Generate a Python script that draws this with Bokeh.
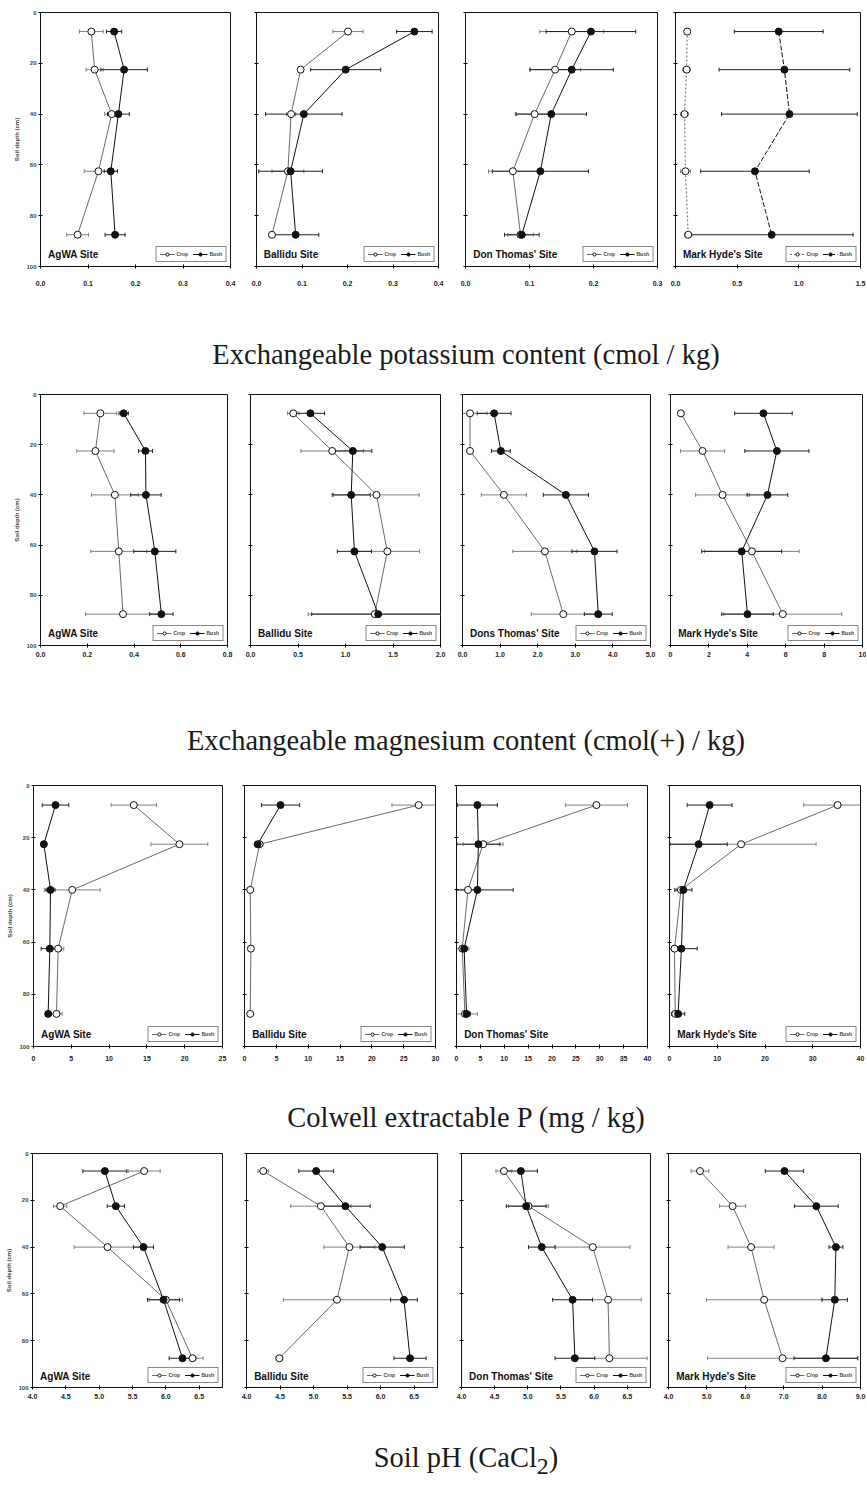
import math
from bokeh.plotting import figure
from bokeh.models import (Range1d, Whisker, TeeHead, ColumnDataSource, Legend, LegendItem,
                          Label, FixedTicker, PrintfTickFormatter, Div)
from bokeh.layouts import column, row
from bokeh.embed import file_html
from bokeh.resources import INLINE

NAN = float("nan")
DEPTH = [7.5, 22.5, 40, 62.5, 87.5]
Y_TICKS = [0, 20, 40, 60, 80, 100]

SITES_K = ["AgWA Site", "Ballidu Site", "Don Thomas' Site", "Mark Hyde's Site"]
SITES_MG = ["AgWA Site", "Ballidu Site", "Dons Thomas' Site", "Mark Hyde's Site"]
SITES_P = ["AgWA Site", "Ballidu Site", "Don Thomas' Site", "Mark Hyde's Site"]
SITES_PH = ["AgWA Site", "Ballidu Site", "Don Thomas' Site", "Mark Hyde's Site"]

CAPTION_K = "Exchangeable potassium content (cmol / kg)"
CAPTION_MG = "Exchangeable magnesium content (cmol(+) / kg)"
CAPTION_P = "Colwell extractable P (mg / kg)"
CAPTION_PH = "Soil pH (CaCl<sub>2</sub>)"

# ---- Exchangeable K (cmol/kg) ----
K_AGWA_CROP = [0.107, 0.114, 0.150, 0.122, 0.078]
K_AGWA_CROP_ERR = [0.025, 0.018, 0.015, 0.030, 0.023]
K_AGWA_BUSH = [0.155, 0.176, 0.164, 0.148, 0.157]
K_AGWA_BUSH_ERR = [0.016, 0.049, 0.023, 0.014, 0.021]
K_BALL_CROP = [0.201, 0.097, 0.076, 0.069, 0.034]
K_BALL_CROP_ERR = [0.033, 0.006, 0.010, 0.035, 0.006]
K_BALL_BUSH = [0.347, 0.196, 0.104, 0.075, 0.086]
K_BALL_BUSH_ERR = [0.039, 0.077, 0.084, 0.070, 0.051]
K_DON_CROP = [0.166, 0.140, 0.108, 0.074, 0.086]
K_DON_CROP_ERR = [0.050, 0.040, 0.030, 0.038, 0.020]
K_DON_BUSH = [0.196, 0.166, 0.134, 0.117, 0.088]
K_DON_BUSH_ERR = [0.070, 0.065, 0.055, 0.075, 0.027]
K_MH_CROP = [0.095, 0.090, 0.073, 0.081, 0.103]
K_MH_CROP_ERR = [0.02, 0.03, 0.03, 0.04, 0.03]
K_MH_BUSH = [0.837, 0.883, 0.924, 0.644, 0.780]
K_MH_BUSH_ERR = [0.36, 0.53, 0.55, 0.44, 0.66]

# ---- Exchangeable Mg (cmol(+)/kg) ----
MG_AGWA_CROP = [0.256, 0.235, 0.318, 0.335, 0.353]
MG_AGWA_CROP_ERR = [0.07, 0.08, 0.10, 0.12, 0.16]
MG_AGWA_BUSH = [0.356, 0.449, 0.451, 0.489, 0.517]
MG_AGWA_BUSH_ERR = [0.02, 0.03, 0.065, 0.09, 0.05]
MG_BALL_CROP = [0.45, 0.86, 1.326, 1.44, 1.308]
MG_BALL_CROP_ERR = [0.06, 0.33, 0.45, 0.34, 0.70]
MG_BALL_BUSH = [0.63, 1.077, 1.06, 1.094, 1.344]
MG_BALL_BUSH_ERR = [0.15, 0.20, 0.20, 0.18, 0.70]
MG_DON_CROP = [0.2, 0.2, 1.1, 2.19, 2.68]
MG_DON_CROP_ERR = [0.45, 0.05, 0.6, 0.85, 0.85]
MG_DON_BUSH = [0.84, 1.02, 2.75, 3.51, 3.61]
MG_DON_BUSH_ERR = [0.45, 0.25, 0.6, 0.6, 0.37]
MG_MH_CROP = [0.54, 1.67, 2.71, 4.24, 5.85]
MG_MH_CROP_ERR = [0.15, 1.15, 1.4, 2.46, 3.07]
MG_MH_BUSH = [4.84, 5.54, 5.05, 3.71, 4.01]
MG_MH_BUSH_ERR = [1.5, 1.67, 1.06, 2.08, 1.34]

# ---- Colwell P (mg/kg) ----
P_AGWA_CROP = [13.27, 19.3, 5.12, 3.26, 3.04]
P_AGWA_CROP_ERR = [3.0, 3.75, 3.7, 0.75, 0.75]
P_AGWA_BUSH = [2.91, 1.37, 2.25, 2.16, 1.94]
P_AGWA_BUSH_ERR = [1.76, 0.3, 0.6, 1.15, 0.3]
P_BALL_CROP = [27.36, 2.38, 0.9, 1.0, 0.9]
P_BALL_CROP_ERR = [4.2, 0.5, 0.2, 0.2, 0.2]
P_BALL_BUSH = [5.66, 2.06, NAN, NAN, NAN]
P_BALL_BUSH_ERR = [3.0, 0.4, NAN, NAN, NAN]
P_DON_CROP = [29.3, 5.57, 2.4, 1.2, 1.76]
P_DON_CROP_ERR = [6.5, 4.2, 2.4, 1.4, 2.6]
P_DON_BUSH = [4.37, 4.58, 4.37, 1.6, 2.11]
P_DON_BUSH_ERR = [4.2, 4.5, 7.5, 0.6, 0.8]
P_MH_CROP = [35.2, 15.0, 2.4, 1.05, 1.2]
P_MH_CROP_ERR = [7.1, 15.7, 1.0, 0.5, 0.5]
P_MH_BUSH = [8.4, 6.1, 2.9, 2.5, 1.8]
P_MH_BUSH_ERR = [4.7, 6.0, 1.8, 3.3, 1.4]

# ---- Soil pH (CaCl2) ----
PH_AGWA_CROP = [5.675, 4.415, 5.125, 6.0, 6.4]
PH_AGWA_CROP_ERR = [0.24, 0.1, 0.5, 0.25, 0.16]
PH_AGWA_BUSH = [5.085, 5.25, 5.665, 5.965, 6.25]
PH_AGWA_BUSH_ERR = [0.33, 0.13, 0.15, 0.24, 0.2]
PH_BALL_CROP = [4.25, 5.11, 5.535, 5.35, 4.49]
PH_BALL_CROP_ERR = [0.08, 0.45, 0.38, 0.8, 0.05]
PH_BALL_BUSH = [5.04, 5.475, 6.025, 6.35, 6.44]
PH_BALL_BUSH_ERR = [0.26, 0.37, 0.33, 0.2, 0.24]
PH_DON_CROP = [4.64, 5.01, 5.98, 6.21, 6.23]
PH_DON_CROP_ERR = [0.12, 0.3, 0.56, 0.5, 0.57]
PH_DON_BUSH = [4.895, 4.975, 5.21, 5.675, 5.71]
PH_DON_BUSH_ERR = [0.25, 0.3, 0.2, 0.3, 0.3]
PH_MH_CROP = [4.82, 5.67, 6.15, 6.49, 6.97]
PH_MH_CROP_ERR = [0.23, 0.34, 0.6, 1.5, 1.95]
PH_MH_BUSH = [7.02, 7.85, 8.36, 8.33, 8.1]
PH_MH_BUSH_ERR = [0.5, 0.57, 0.18, 0.33, 0.83]

# axis ranges / ticks for each panel
K_RANGES = [(0, 0.4), (0, 0.4), (0, 0.3), (0, 1.5)]
K_TICKS = [[0, 0.1, 0.2, 0.3, 0.4], [0, 0.1, 0.2, 0.3, 0.4], [0, 0.1, 0.2, 0.3], [0, 0.5, 1.0, 1.5]]
K_FMT = ["%.1f", "%.1f", "%.1f", "%.1f"]
MG_RANGES = [(0, 0.8), (0, 2.0), (0, 5.0), (0, 10)]
MG_TICKS = [[0, 0.2, 0.4, 0.6, 0.8], [0, 0.5, 1.0, 1.5, 2.0], [0, 1, 2, 3, 4, 5], [0, 2, 4, 6, 8, 10]]
MG_FMT = ["%.1f", "%.1f", "%.1f", "%d"]
P_RANGES = [(0, 25), (0, 30), (0, 40), (0, 40)]
P_TICKS = [[0, 5, 10, 15, 20, 25], [0, 5, 10, 15, 20, 25, 30],
           [0, 5, 10, 15, 20, 25, 30, 35, 40], [0, 10, 20, 30, 40]]
P_FMT = ["%d", "%d", "%d", "%d"]
PH_RANGES = [(4.0, 6.85), (4.0, 6.85), (4.0, 6.85), (4.0, 9.0)]
PH_TICKS = [[4.0, 4.5, 5.0, 5.5, 6.0, 6.5]] * 3 + [[4.0, 5.0, 6.0, 7.0, 8.0, 9.0]]
PH_FMT = ["%.1f"] * 4

FONT = "Liberation Sans"


def make_panel(site, crop, crop_err, bush, bush_err, xr, ticks, fmt, geom, first, legend,
               standoff, dashed=False):
    x0, x1, fl, fr, y0, y1, ft, fb = geom
    p = figure(frame_width=fr - fl, frame_height=fb - ft, title=None,
               x_range=Range1d(*xr), y_range=Range1d(100, 0),
               output_backend="svg", toolbar_location=None,
               min_border_left=fl - x0, min_border_right=x1 - fr,
               min_border_top=ft - y0, min_border_bottom=y1 - fb)
    p.grid.visible = False
    p.outline_line_color = "#111111"
    p.outline_line_width = 1
    p.background_fill_color = "white"
    p.border_fill_color = "white"

    xa = p.xaxis[0]
    xa.ticker = FixedTicker(ticks=ticks)
    xa.formatter = PrintfTickFormatter(format=fmt)
    xa.major_label_text_font = FONT
    xa.major_label_text_font_style = "bold"
    xa.major_label_text_font_size = "7px"
    xa.major_label_text_color = "#222222"
    xa.major_label_standoff = standoff
    xa.major_tick_in = 2
    xa.major_tick_out = 2
    xa.minor_tick_line_color = None
    xa.axis_line_color = "#111111"

    ya = p.yaxis[0]
    ya.ticker = FixedTicker(ticks=Y_TICKS)
    ya.major_tick_in = 2
    ya.major_tick_out = 2
    ya.minor_tick_line_color = None
    ya.axis_line_color = "#111111"
    ya.major_label_text_font = FONT
    ya.major_label_text_font_style = "bold"
    ya.major_label_text_font_size = "6px"
    ya.major_label_standoff = 2
    if first:
        ya.axis_label = "Soil depth (cm)"
        ya.axis_label_text_font = FONT
        ya.axis_label_text_font_style = "bold"
        ya.axis_label_text_font_size = "6px"
        ya.axis_label_standoff = 3
    else:
        ya.major_label_overrides = {t: "" for t in Y_TICKS}

    cs = ColumnDataSource(dict(d=DEPTH, v=crop,
                               lo=[a - b for a, b in zip(crop, crop_err)],
                               hi=[a + b for a, b in zip(crop, crop_err)]))
    bs = ColumnDataSource(dict(d=DEPTH, v=bush,
                               lo=[a - b for a, b in zip(bush, bush_err)],
                               hi=[a + b for a, b in zip(bush, bush_err)]))
    for src, col in ((cs, "#808080"), (bs, "#222222")):
        w = Whisker(source=src, base="d", lower="lo", upper="hi", dimension="width",
                    line_color=col, line_width=1, level="underlay",
                    upper_head=TeeHead(size=4, line_color=col, line_width=1),
                    lower_head=TeeHead(size=4, line_color=col, line_width=1))
        p.add_layout(w)

    cl = p.line("v", "d", source=cs, line_color="#6a6a6a", line_width=1,
                line_dash="2 2" if dashed else "solid")
    bl = p.line("v", "d", source=bs, line_color="#111111", line_width=1,
                line_dash="5 2" if dashed else "solid")
    cm = p.scatter("v", "d", source=cs, size=7, marker="circle", fill_color="white",
                   line_color="#111111", line_width=1)
    bm = p.scatter("v", "d", source=bs, size=7, marker="circle", fill_color="#111111",
                   line_color="#111111", line_width=1)

    span = xr[1] - xr[0]
    p.add_layout(Label(x=xr[0] + 0.04 * span, y=97.5, text=site, text_font=FONT,
                       text_font_style="bold", text_font_size="10px",
                       text_baseline="bottom", text_color="#111111"))
    if legend:
        lg = Legend(items=[LegendItem(label="Crop", renderers=[cl, cm]),
                           LegendItem(label="Bush", renderers=[bl, bm])],
                    location="bottom_right", orientation="horizontal",
                    label_text_font=FONT, label_text_font_style="bold",
                    label_text_font_size="5px", glyph_width=15, glyph_height=8,
                    label_standoff=2, label_width=12, spacing=4, padding=3, margin=4,
                    border_line_color="#111111", border_line_width=1,
                    background_fill_color="white", background_fill_alpha=1.0,
                    label_height=8)
        p.add_layout(lg)
    return p


def build_row(sites, data, ranges, ticks, fmts, bounds, frames, top, bottom, ftop, fbot,
              standoff, legends, dashed=(False, False, False, False)):
    # frames within a row share top and bottom (Bokeh aligns them)
    figs = []
    for j in range(4):
        geom = (bounds[j], bounds[j + 1], frames[j][0], frames[j][1], top, bottom, ftop, fbot)
        c, ce, b, be = data[j]
        figs.append(make_panel(sites[j], c, ce, b, be, ranges[j], ticks[j], fmts[j], geom,
                               j == 0, legends[j], standoff, dashed[j]))
    return row(*figs, spacing=0)


CAP_CENTER = 466
CAP_BOX = 800


def caption(html, top, bottom, center):
    lh = 32
    pad = center - lh // 2 - top
    left = CAP_CENTER - CAP_BOX // 2
    txt = ('<div style="width:%dpx;margin:0 0 0 %dpx;padding:%dpx 0 0 0;text-align:center;'
           'font-family:\'Liberation Serif\',serif;font-size:28.5px;line-height:%dpx;'
           'color:#1a1a1a;white-space:nowrap;">%s</div>' % (CAP_BOX, left, pad, lh, html))
    return Div(text=txt, width=867, height=bottom - top, margin=(0, 0, 0, 0),
               styles={"overflow": "hidden"})


K_DATA = [(K_AGWA_CROP, K_AGWA_CROP_ERR, K_AGWA_BUSH, K_AGWA_BUSH_ERR),
          (K_BALL_CROP, K_BALL_CROP_ERR, K_BALL_BUSH, K_BALL_BUSH_ERR),
          (K_DON_CROP, K_DON_CROP_ERR, K_DON_BUSH, K_DON_BUSH_ERR),
          (K_MH_CROP, K_MH_CROP_ERR, K_MH_BUSH, K_MH_BUSH_ERR)]
MG_DATA = [(MG_AGWA_CROP, MG_AGWA_CROP_ERR, MG_AGWA_BUSH, MG_AGWA_BUSH_ERR),
           (MG_BALL_CROP, MG_BALL_CROP_ERR, MG_BALL_BUSH, MG_BALL_BUSH_ERR),
           (MG_DON_CROP, MG_DON_CROP_ERR, MG_DON_BUSH, MG_DON_BUSH_ERR),
           (MG_MH_CROP, MG_MH_CROP_ERR, MG_MH_BUSH, MG_MH_BUSH_ERR)]
P_DATA = [(P_AGWA_CROP, P_AGWA_CROP_ERR, P_AGWA_BUSH, P_AGWA_BUSH_ERR),
          (P_BALL_CROP, P_BALL_CROP_ERR, P_BALL_BUSH, P_BALL_BUSH_ERR),
          (P_DON_CROP, P_DON_CROP_ERR, P_DON_BUSH, P_DON_BUSH_ERR),
          (P_MH_CROP, P_MH_CROP_ERR, P_MH_BUSH, P_MH_BUSH_ERR)]
PH_DATA = [(PH_AGWA_CROP, PH_AGWA_CROP_ERR, PH_AGWA_BUSH, PH_AGWA_BUSH_ERR),
           (PH_BALL_CROP, PH_BALL_CROP_ERR, PH_BALL_BUSH, PH_BALL_BUSH_ERR),
           (PH_DON_CROP, PH_DON_CROP_ERR, PH_DON_BUSH, PH_DON_BUSH_ERR),
           (PH_MH_CROP, PH_MH_CROP_ERR, PH_MH_BUSH, PH_MH_BUSH_ERR)]

r1 = build_row(SITES_K, K_DATA, K_RANGES, K_TICKS, K_FMT,
               [0, 243, 451, 666, 866], [(40, 230), (256, 438), (465, 657), (675, 860)],
               0, 296, 12, 266, 12, [True] * 4, dashed=(False, False, False, True))
c1 = caption(CAPTION_K, 296, 385, 355)
r2 = build_row(SITES_MG, MG_DATA, MG_RANGES, MG_TICKS, MG_FMT,
               [0, 238, 451, 660, 866], [(40, 227), (250, 440), (462, 650), (670, 862)],
               385, 670, 394, 645, 4, [True] * 4)
c2 = caption(CAPTION_MG, 670, 770, 741)
r3 = build_row(SITES_P, P_DATA, P_RANGES, P_TICKS, P_FMT,
               [0, 233, 445, 658, 866], [(33, 222), (244, 435), (456, 647), (669, 860)],
               770, 1070, 785, 1046, 7, [True, True, False, True])
c3 = caption(CAPTION_P, 1070, 1140, 1118)
r4 = build_row(SITES_PH, PH_DATA, PH_RANGES, PH_TICKS, PH_FMT,
               [0, 234, 449, 659, 866], [(32, 222), (246, 437), (461, 650), (668, 860)],
               1140, 1410, 1153, 1387, 4, [True] * 4)
c4 = caption(CAPTION_PH, 1410, 1484, 1458)

layout = column(r1, c1, r2, c2, r3, c3, r4, c4, spacing=0)

with open("out.html", "w") as f:
    f.write(file_html(layout, INLINE))
